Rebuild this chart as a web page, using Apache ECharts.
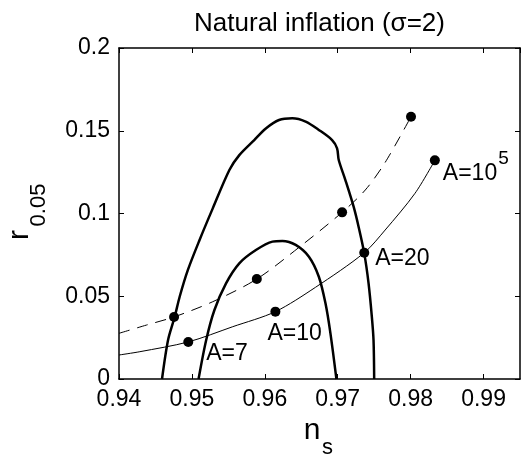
<!DOCTYPE html>
<html>
<head>
<meta charset="utf-8">
<script src="https://cdn.jsdelivr.net/npm/echarts@6/dist/echarts.min.js"></script>
<style>
  html, body { margin: 0; padding: 0; background: #fff; }
  #chart { width: 521px; height: 457px; }
</style>
</head>
<body>
<div id="chart"></div>
<script>
// natural inflation, sigma = 2 : contours in (n_s, r) plane + model curves
var xTicks = [0.94, 0.95, 0.96, 0.97, 0.98, 0.99];
var yTicks = [0, 0.05, 0.1, 0.15, 0.2];

// thick contours (open at r = 0)
var outerContour = [
    [0.9459, 0], [0.94673, 0.0236], [0.94764, 0.0376], [0.94832, 0.0497], [0.94945, 0.0659],
    [0.95105, 0.084], [0.95286, 0.1031], [0.95514, 0.1263], [0.9565, 0.1353], [0.95855, 0.1444],
    [0.96014, 0.1514], [0.96195, 0.1565], [0.96377, 0.1575], [0.9656, 0.1555], [0.96741, 0.1505],
    [0.96923, 0.1444], [0.96991, 0.1394], [0.97014, 0.1323], [0.97105, 0.1202], [0.97218, 0.1041],
    [0.97286, 0.092], [0.97364, 0.0759], [0.97423, 0.0578], [0.97468, 0.0376], [0.97491, 0.0236],
    [0.975, 0]
];
var innerContour = [
    [0.95091, 0], [0.95196, 0.0236], [0.95309, 0.0417], [0.95468, 0.0578], [0.9565, 0.0699],
    [0.95878, 0.0779], [0.96105, 0.083], [0.96241, 0.0834], [0.96423, 0.081], [0.96605, 0.0739],
    [0.96741, 0.0618], [0.96832, 0.0457], [0.969, 0.0276], [0.96982, 0]
];

// model curves
var dashedCurve = [
    [0.94, 0.0276], [0.94377, 0.0326], [0.94755, 0.0375], [0.95286, 0.0467], [0.9589, 0.0604],
    [0.96468, 0.0795], [0.9706, 0.1007], [0.97378, 0.1142], [0.97651, 0.1309], [0.98005, 0.1585]
];
var solidCurve = [
    [0.94, 0.0145], [0.94286, 0.0165], [0.9495, 0.0224], [0.9556, 0.0316], [0.96145, 0.0407],
    [0.96695, 0.0554], [0.97364, 0.0763], [0.9765, 0.09], [0.9806, 0.1122], [0.98332, 0.1321]
];

var dashedDots = [[0.94755, 0.0375], [0.9589, 0.0604], [0.9706, 0.1007], [0.98005, 0.1585]];
var solidDots = [[0.9495, 0.0224], [0.96145, 0.0407], [0.97364, 0.0763], [0.98332, 0.1321]];
var dotLabels = ['A=7', 'A=10', 'A=20', 'A=10^5'];

var FONT = 'Liberation Sans, Arial, sans-serif';
var labelOffsets = [[18, 12], [-8, 22], [11, 6], [8, 7]];

function richLabel(s) {
    var p = s.split('^');
    return p.length > 1 ? '{b|' + p[0] + '}{sup|' + p[1] + '}' : '{a|' + s + '}';
}

var labelledDots = solidDots.map(function (d, i) {
    return {
        value: d,
        label: {
            show: true,
            position: 'inside',
            align: 'left',
            verticalAlign: 'middle',
            offset: labelOffsets[i],
            color: '#000',
            textBorderWidth: 0,
            formatter: richLabel(dotLabels[i]),
            rich: {
                a: { fontSize: 23, fontFamily: FONT, color: '#000', textBorderWidth: 0 },
                b: { fontSize: 23, fontFamily: FONT, color: '#000', textBorderWidth: 0, lineHeight: 36, verticalAlign: 'bottom' },
                sup: { fontSize: 19, fontFamily: FONT, color: '#000', textBorderWidth: 0, verticalAlign: 'top', padding: [0, 0, 0, 1] }
            }
        }
    };
});

function fmtX(v) {
    return Math.abs(v * 100 - Math.round(v * 100)) < 1e-6 ? v.toFixed(2) : '';
}

var axisBase = {
    type: 'value',
    axisLine: { show: true, onZero: false, lineStyle: { color: '#000', width: 1.5 } },
    axisTick: { show: true, inside: true, length: 5, lineStyle: { color: '#000', width: 1 } },
    splitLine: { show: false }
};

var chart = echarts.init(document.getElementById('chart'));
chart.setOption({
    animation: false,
    backgroundColor: '#fff',
    grid: { left: 119, right: 1, top: 48, bottom: 78 },
    xAxis: [
        Object.assign({}, axisBase, {
            position: 'bottom', min: xTicks[0], max: 0.995, interval: 0.01,
            axisLabel: { formatter: fmtX, fontSize: 23, fontFamily: FONT, color: '#000', margin: 9, showMaxLabel: false }
        }),
        Object.assign({}, axisBase, {
            position: 'top', min: xTicks[0], max: 0.995, interval: 0.01,
            axisLabel: { show: false }
        })
    ],
    yAxis: [
        Object.assign({}, axisBase, {
            position: 'left', min: yTicks[0], max: yTicks[yTicks.length - 1], interval: 0.05,
            axisLabel: { fontSize: 23, fontFamily: FONT, color: '#000', margin: 9 }
        }),
        Object.assign({}, axisBase, {
            position: 'right', min: yTicks[0], max: yTicks[yTicks.length - 1], interval: 0.05,
            axisLabel: { show: false }
        })
    ],
    series: [
        {
            type: 'line', data: outerContour, showSymbol: false, smooth: 0.3,
            lineStyle: { color: '#000', width: 2.5 }
        },
        {
            type: 'line', data: innerContour, showSymbol: false, smooth: 0.3,
            lineStyle: { color: '#000', width: 2.5 }
        },
        {
            type: 'line', data: dashedCurve, showSymbol: false, smooth: 0.3,
            lineStyle: { color: '#000', width: 1, type: [11, 8] }
        },
        {
            type: 'line', data: solidCurve, showSymbol: false, smooth: 0.3,
            lineStyle: { color: '#000', width: 1 }
        },
        {
            type: 'scatter', data: dashedDots, symbolSize: 10,
            itemStyle: { color: '#000', opacity: 1 }
        },
        {
            type: 'scatter', data: labelledDots, symbolSize: 10,
            itemStyle: { color: '#000', opacity: 1 }
        }
    ],
    graphic: [
        {
            type: 'text', x: 319.5, y: 24,
            style: { text: 'Natural inflation (σ=2)', font: '26px ' + FONT, fill: '#000', align: 'center', verticalAlign: 'middle' }
        },
        {
            type: 'text', x: 312, y: 431,
            style: { text: 'n', font: '30px ' + FONT, fill: '#000', align: 'center', verticalAlign: 'middle' }
        },
        {
            type: 'text', x: 327.5, y: 447.5,
            style: { text: 's', font: '22px ' + FONT, fill: '#000', align: 'center', verticalAlign: 'middle' }
        },
        {
            type: 'text', x: 20, y: 235, rotation: Math.PI / 2,
            style: { text: 'r', font: '30px ' + FONT, fill: '#000', align: 'center', verticalAlign: 'middle' }
        },
        {
            type: 'text', x: 38.5, y: 205, rotation: Math.PI / 2,
            style: { text: '0.05', font: '22px ' + FONT, fill: '#000', align: 'center', verticalAlign: 'middle' }
        }
    ]
});
window.addEventListener('resize', function () { chart.resize(); });
</script>
</body>
</html>
